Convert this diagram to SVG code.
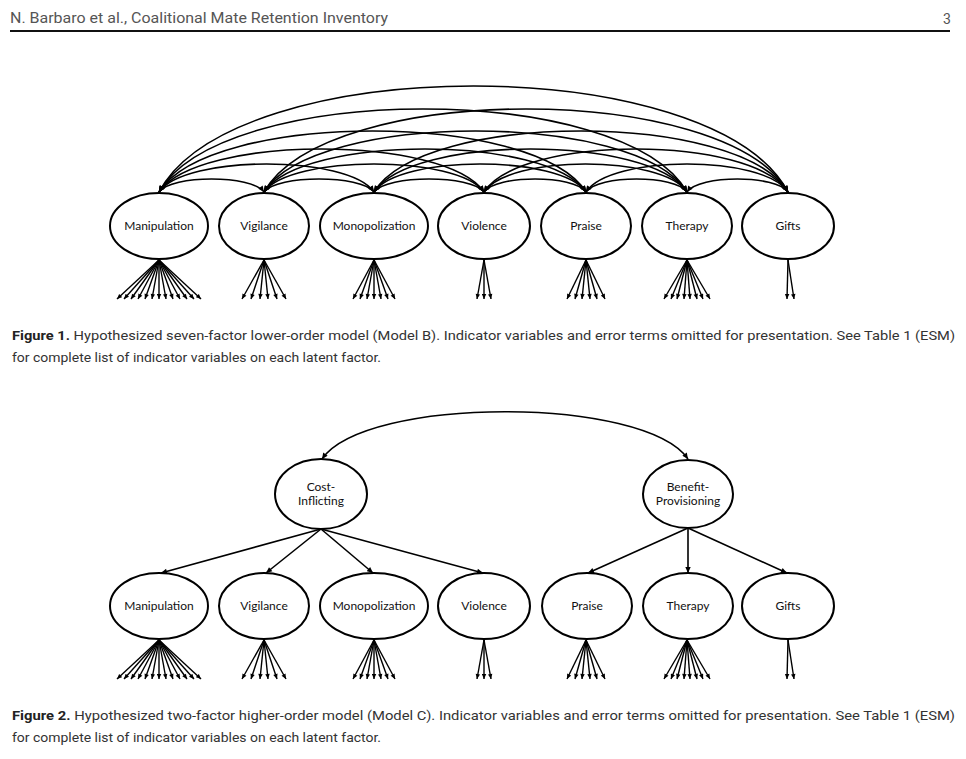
<svg xmlns="http://www.w3.org/2000/svg" width="966" height="759" viewBox="0 0 966 759">
<defs>
<marker id="ah" viewBox="0 0 10 10" refX="10" refY="5" markerWidth="7" markerHeight="6" markerUnits="userSpaceOnUse" orient="auto-start-reverse"><path d="M0,0.5 L10,5 L0,9.5 z" fill="#000"/></marker>
<marker id="sh" viewBox="0 0 10 10" refX="10" refY="5" markerWidth="6" markerHeight="5" markerUnits="userSpaceOnUse" orient="auto"><path d="M0,0.5 L10,5 L0,9.5 z" fill="#000"/></marker>
<style>
.hdr{font-family:"Liberation Sans Narrow","Roboto","Liberation Sans",sans-serif;font-size:14px;fill:#555}
.cap{font-family:"Liberation Sans Narrow","Roboto","Liberation Sans",sans-serif;font-size:13.5px;fill:#333}
.b{font-weight:bold;fill:#222}
.node ellipse{fill:#fff;stroke:#000;stroke-width:2}
.node text{font-family:"Lato","Liberation Sans",sans-serif;font-size:12px;fill:#111;text-anchor:middle}
.cov path{fill:none;stroke:#000;stroke-width:1.6;marker-start:url(#ah);marker-end:url(#ah)}
.ind line{stroke:#000;stroke-width:1.4;marker-end:url(#sh)}
.path2 line{stroke:#000;stroke-width:1.6;marker-end:url(#ah)}
</style>
</defs>
<rect width="966" height="759" fill="#fff"/>
<text class="hdr" x="10" y="23" textLength="378" lengthAdjust="spacingAndGlyphs">N. Barbaro et al., Coalitional Mate Retention Inventory</text>
<text class="hdr" x="943" y="24">3</text>
<line x1="10" y1="31" x2="950" y2="31" stroke="#111" stroke-width="2.2"/>

<!-- Figure 1 connectors -->
<g id="fig1-connectors" class="cov">
<path d="M159,192 C171.6,174.7 251.4,174.7 264,192"/>
<path d="M159,192 C184.8,154.7 348.2,154.7 374,192"/>
<path d="M159,192 C198,134.7 445,134.7 484,192"/>
<path d="M159,192 C210.2,110.7 534.8,110.7 586,192"/>
<path d="M159,192 C222.4,81.3 623.6,81.3 687,192"/>
<path d="M159,192 C234.5,50.7 712.5,50.7 788,192"/>
<path d="M264,192 C277.2,174.7 360.8,174.7 374,192"/>
<path d="M264,192 C290.4,154.7 457.6,154.7 484,192"/>
<path d="M264,192 C302.6,134.7 547.4,134.7 586,192"/>
<path d="M264,192 C314.8,110.7 636.2,110.7 687,192"/>
<path d="M264,192 C326.9,81.3 725.1,81.3 788,192"/>
<path d="M374,192 C387.2,174.7 470.8,174.7 484,192"/>
<path d="M374,192 C399.4,154.7 560.6,154.7 586,192"/>
<path d="M374,192 C411.6,134.7 649.4,134.7 687,192"/>
<path d="M374,192 C423.7,110.7 738.3,110.7 788,192"/>
<path d="M484,192 C496.2,174.7 573.8,174.7 586,192"/>
<path d="M484,192 C508.4,154.7 662.6,154.7 687,192"/>
<path d="M484,192 C520.5,134.7 751.5,134.7 788,192"/>
<path d="M586,192 C598.1,174.7 674.9,174.7 687,192"/>
<path d="M586,192 C610.2,154.7 763.8,154.7 788,192"/>
<path d="M687,192 C699.1,174.7 775.9,174.7 788,192"/>
</g>
<g id="fig1-indicators" class="ind">
<line x1="159" y1="260" x2="117" y2="299"/><line x1="159" y1="260" x2="124" y2="299"/><line x1="159" y1="260" x2="131" y2="299"/><line x1="159" y1="260" x2="138" y2="299"/><line x1="159" y1="260" x2="145" y2="299"/><line x1="159" y1="260" x2="152" y2="299"/><line x1="159" y1="260" x2="159" y2="299"/><line x1="159" y1="260" x2="166" y2="299"/><line x1="159" y1="260" x2="173" y2="299"/><line x1="159" y1="260" x2="180" y2="299"/><line x1="159" y1="260" x2="187" y2="299"/><line x1="159" y1="260" x2="194" y2="299"/><line x1="159" y1="260" x2="201" y2="299"/>
<line x1="264" y1="260" x2="242" y2="299"/><line x1="264" y1="260" x2="251" y2="299"/><line x1="264" y1="260" x2="260" y2="299"/><line x1="264" y1="260" x2="268" y2="299"/><line x1="264" y1="260" x2="277" y2="299"/><line x1="264" y1="260" x2="286" y2="299"/>
<line x1="374" y1="260" x2="353" y2="299"/><line x1="374" y1="260" x2="360" y2="299"/><line x1="374" y1="260" x2="367" y2="299"/><line x1="374" y1="260" x2="374" y2="299"/><line x1="374" y1="260" x2="381" y2="299"/><line x1="374" y1="260" x2="388" y2="299"/><line x1="374" y1="260" x2="395" y2="299"/>
<line x1="484" y1="260" x2="477" y2="299"/><line x1="484" y1="260" x2="484" y2="299"/><line x1="484" y1="260" x2="491" y2="299"/>
<line x1="586" y1="260" x2="567" y2="299"/><line x1="586" y1="260" x2="575" y2="299"/><line x1="586" y1="260" x2="582" y2="299"/><line x1="586" y1="260" x2="590" y2="299"/><line x1="586" y1="260" x2="597" y2="299"/><line x1="586" y1="260" x2="605" y2="299"/>
<line x1="687" y1="260" x2="664" y2="299"/><line x1="687" y1="260" x2="671" y2="299"/><line x1="687" y1="260" x2="677" y2="299"/><line x1="687" y1="260" x2="684" y2="299"/><line x1="687" y1="260" x2="690" y2="299"/><line x1="687" y1="260" x2="697" y2="299"/><line x1="687" y1="260" x2="703" y2="299"/><line x1="687" y1="260" x2="710" y2="299"/>
<line x1="788" y1="260" x2="787" y2="299"/><line x1="788" y1="260" x2="794" y2="299"/>
</g>
<g id="f1-manipulation" class="node"><ellipse cx="159" cy="226" rx="49" ry="33"/><text x="159" y="230">Manipulation</text></g>
<g id="f1-vigilance" class="node"><ellipse cx="264" cy="226" rx="45" ry="33"/><text x="264" y="230">Vigilance</text></g>
<g id="f1-monopolization" class="node"><ellipse cx="374" cy="226" rx="54" ry="33"/><text x="374" y="230">Monopolization</text></g>
<g id="f1-violence" class="node"><ellipse cx="484" cy="226" rx="46" ry="33"/><text x="484" y="230">Violence</text></g>
<g id="f1-praise" class="node"><ellipse cx="586" cy="226" rx="45" ry="33"/><text x="586" y="230">Praise</text></g>
<g id="f1-therapy" class="node"><ellipse cx="687" cy="226" rx="45" ry="33"/><text x="687" y="230">Therapy</text></g>
<g id="f1-gifts" class="node"><ellipse cx="788" cy="226" rx="46" ry="33"/><text x="788" y="230">Gifts</text></g>

<text class="cap" x="12" y="340" textLength="943" lengthAdjust="spacingAndGlyphs"><tspan class="b">Figure 1.</tspan> Hypothesized seven-factor lower-order model (Model B). Indicator variables and error terms omitted for presentation. See Table 1 (ESM)</text>
<text class="cap" x="12" y="362" textLength="369" lengthAdjust="spacingAndGlyphs">for complete list of indicator variables on each latent factor.</text>

<!-- Figure 2 connectors -->
<g id="fig2-connectors">
<g class="cov"><path d="M322,459 C366,396 644,396 688,459"/></g>
<g class="path2">
<line x1="321" y1="529" x2="161" y2="573"/>
<line x1="321" y1="529" x2="266" y2="573"/>
<line x1="321" y1="529" x2="373" y2="573"/>
<line x1="321" y1="529" x2="483" y2="573"/>
<line x1="688" y1="528" x2="588" y2="573"/>
<line x1="688" y1="528" x2="688" y2="573"/>
<line x1="688" y1="528" x2="787" y2="573"/>
</g>
<g class="ind">
<line x1="159" y1="640" x2="117" y2="679"/><line x1="159" y1="640" x2="124" y2="679"/><line x1="159" y1="640" x2="131" y2="679"/><line x1="159" y1="640" x2="138" y2="679"/><line x1="159" y1="640" x2="145" y2="679"/><line x1="159" y1="640" x2="152" y2="679"/><line x1="159" y1="640" x2="159" y2="679"/><line x1="159" y1="640" x2="166" y2="679"/><line x1="159" y1="640" x2="173" y2="679"/><line x1="159" y1="640" x2="180" y2="679"/><line x1="159" y1="640" x2="187" y2="679"/><line x1="159" y1="640" x2="194" y2="679"/><line x1="159" y1="640" x2="201" y2="679"/>
<line x1="264" y1="640" x2="242" y2="679"/><line x1="264" y1="640" x2="251" y2="679"/><line x1="264" y1="640" x2="260" y2="679"/><line x1="264" y1="640" x2="268" y2="679"/><line x1="264" y1="640" x2="277" y2="679"/><line x1="264" y1="640" x2="286" y2="679"/>
<line x1="374" y1="640" x2="353" y2="679"/><line x1="374" y1="640" x2="360" y2="679"/><line x1="374" y1="640" x2="367" y2="679"/><line x1="374" y1="640" x2="374" y2="679"/><line x1="374" y1="640" x2="381" y2="679"/><line x1="374" y1="640" x2="388" y2="679"/><line x1="374" y1="640" x2="395" y2="679"/>
<line x1="484" y1="640" x2="477" y2="679"/><line x1="484" y1="640" x2="484" y2="679"/><line x1="484" y1="640" x2="491" y2="679"/>
<line x1="586" y1="640" x2="567" y2="679"/><line x1="586" y1="640" x2="575" y2="679"/><line x1="586" y1="640" x2="582" y2="679"/><line x1="586" y1="640" x2="590" y2="679"/><line x1="586" y1="640" x2="597" y2="679"/><line x1="586" y1="640" x2="605" y2="679"/>
<line x1="687" y1="640" x2="664" y2="679"/><line x1="687" y1="640" x2="671" y2="679"/><line x1="687" y1="640" x2="677" y2="679"/><line x1="687" y1="640" x2="684" y2="679"/><line x1="687" y1="640" x2="690" y2="679"/><line x1="687" y1="640" x2="697" y2="679"/><line x1="687" y1="640" x2="703" y2="679"/><line x1="687" y1="640" x2="710" y2="679"/>
<line x1="788" y1="640" x2="787" y2="679"/><line x1="788" y1="640" x2="794" y2="679"/>
</g>
</g>
<g id="f2-cost" class="node"><ellipse cx="321" cy="494" rx="46" ry="35"/><text x="321" y="491">Cost-</text><text x="321" y="505">Inflicting</text></g>
<g id="f2-benefit" class="node"><ellipse cx="688" cy="494" rx="45" ry="34"/><text x="688" y="491">Benefit-</text><text x="688" y="505">Provisioning</text></g>
<g id="f2-manipulation" class="node"><ellipse cx="159" cy="606" rx="49" ry="33"/><text x="159" y="610">Manipulation</text></g>
<g id="f2-vigilance" class="node"><ellipse cx="264" cy="606" rx="45" ry="33"/><text x="264" y="610">Vigilance</text></g>
<g id="f2-monopolization" class="node"><ellipse cx="374" cy="606" rx="54" ry="33"/><text x="374" y="610">Monopolization</text></g>
<g id="f2-violence" class="node"><ellipse cx="484" cy="606" rx="46" ry="33"/><text x="484" y="610">Violence</text></g>
<g id="f2-praise" class="node"><ellipse cx="587" cy="606" rx="45" ry="33"/><text x="587" y="610">Praise</text></g>
<g id="f2-therapy" class="node"><ellipse cx="688" cy="606" rx="45" ry="33"/><text x="688" y="610">Therapy</text></g>
<g id="f2-gifts" class="node"><ellipse cx="788" cy="606" rx="46" ry="33"/><text x="788" y="610">Gifts</text></g>

<text class="cap" x="12" y="720" textLength="943" lengthAdjust="spacingAndGlyphs"><tspan class="b">Figure 2.</tspan> Hypothesized two-factor higher-order model (Model C). Indicator variables and error terms omitted for presentation. See Table 1 (ESM)</text>
<text class="cap" x="12" y="742" textLength="369" lengthAdjust="spacingAndGlyphs">for complete list of indicator variables on each latent factor.</text>
</svg>
